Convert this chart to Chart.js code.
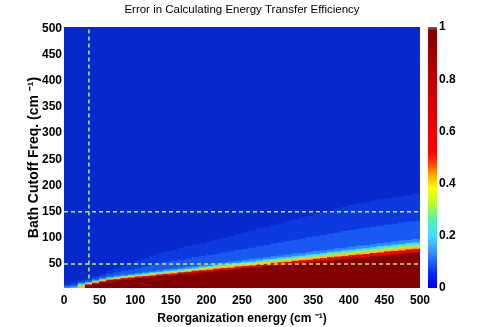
<!DOCTYPE html>
<html>
<head>
<meta charset="utf-8">
<script src="https://cdn.jsdelivr.net/npm/chart.js@4.4.0/dist/chart.umd.min.js"></script>
<style>
  body { margin: 0; background: #fff; }
  #wrap { position: relative; width: 491px; height: 327px; }
  #heat { position: absolute; left: 0; top: 0; }
  #cbar { position: absolute; left: 420px; top: 0; }
</style>
</head>
<body>
<div id="wrap">
  <canvas id="heat" width="491" height="327"></canvas>
  <canvas id="cbar" width="71" height="327"></canvas>
</div>
<script>
// reorganization energy, centre of each 10 cm^-1 column
const reorgEnergy = [5,15,25,35,45,55,65,75,85,95,105,115,125,135,145,155,165,175,185,195,
  205,215,225,235,245,255,265,275,285,295,305,315,325,335,345,355,365,375,385,395,
  405,415,425,435,445,455,465,475,485,495];

// bath cutoff freq where the error falls below each level (read column by column)
const edgeDarkRed = [4,4,4,9,12,15,18,19,20,22,23,24,25,27,28,29,31,32,33,34,36,37,38,39,41,42,43,44,46,47,48,49,51,52,53,55,56,57,58,60,61,62,63,65,66,67,68,70,71,72];
const edgeRed     = [4,4,4,11,14,17,20,21,23,24,26,27,28,30,31,32,34,35,37,38,39,41,42,43,45,46,47,49,50,52,53,54,56,57,58,60,61,63,64,65,67,68,69,71,72,74,75,76,78,79];
const edgeYellow  = [4,4,9,12,15,19,21,23,25,26,27,29,30,32,33,35,36,37,39,40,42,43,45,46,48,49,50,52,53,55,56,58,59,61,62,63,65,66,68,69,71,72,74,75,76,78,79,81,82,84];
const edgeGreen   = [4,4,10,13,16,20,22,24,26,27,29,30,32,33,34,36,37,39,40,42,43,45,46,48,49,51,52,54,55,57,58,60,61,63,64,66,67,69,70,72,73,75,76,78,79,81,82,84,85,86];
const edgeCyan    = [4,5,12,15,18,21,24,26,27,29,30,32,34,35,37,38,40,41,43,45,46,48,49,51,52,54,55,57,59,60,62,63,65,66,68,69,71,73,74,76,77,79,80,82,84,85,87,88,90,91];
const edgeLight   = [7,8,14,16,20,23,26,28,30,31,33,35,36,38,40,41,43,45,46,48,50,51,53,55,56,58,60,61,63,65,66,68,70,71,73,75,76,78,80,81,83,85,86,88,90,91,93,95,96,98];
const edgeMid     = [9,11,16,19,23,27,31,34,37,39,42,45,48,51,54,56,58,60,63,65,67,69,72,74,77,79,81,84,86,89,91,94,96,98,101,103,105,108,110,113,115,117,119,121,123,125,127,129,131,132];
const edgePale    = [12,15,19,22,27,32,37,42,47,52,56,61,66,71,74,77,81,84,87,90,93,97,100,103,107,110,114,118,121,125,128,132,135,139,142,146,149,152,156,159,163,166,168,171,173,175,177,179,182,184];

const freqMin = 4;
const freqMax = 503;
const xTicks = [0,50,100,150,200,250,300,350,400,450,500];
const yTicks = [50,100,150,200,250,300,350,400,450,500];

// dashed guide lines
const guideX = 35;
const guideXSpan = [22, 503];
const guideY = [50, 150];

const cbTicks = [0, 0.2, 0.4, 0.6, 0.8, 1];

// band colours, bottom (error ~1) to top (error ~0)
const bandColors = ['#820000','#ec0000','#ffc400','#a8f040','#40e0f8','#2c8cff','#1a58f4','#0c3ae0','#0628cc'];
const cmapStops = [0, 0.05, 0.1, 0.15, 0.2, 0.27, 0.32, 0.38, 0.43, 0.47, 0.52, 0.6, 0.8, 0.985, 1];
const cmapColors = ['#0000f0','#0020ff','#2060ff','#40a0ff','#40e0ff','#60f0a0','#b0ff30','#ffff00','#ffb000','#ff5000','#ff0000','#f00000','#c00000','#800000','#906060'];

const fam = "'Liberation Sans', Arial, sans-serif";
const tickFont = { family: fam, size: 12, weight: 'bold' };

const upper = reorgEnergy.map(() => freqMax);
// each band painted from the bottom up to its top edge, highest band first
const tops = [edgeDarkRed, edgeRed, edgeYellow, edgeGreen, edgeCyan, edgeLight, edgeMid, edgePale, upper];

const datasets = [];
guideY.forEach(y => {
    datasets.push({
        type: 'line',
        data: [{ x: 0, y: y }, { x: 500, y: y }],
        borderColor: '#c4f23c',
        borderWidth: 1.5,
        borderDash: [4, 3],
        pointRadius: 0,
        order: 0
    });
});
datasets.push({
    type: 'line',
    data: [{ x: guideX, y: guideXSpan[0] }, { x: guideX, y: guideXSpan[1] }],
    borderColor: '#b0f060',
    borderWidth: 1.5,
    borderDash: [4, 3],
    pointRadius: 0,
    order: 0
});
for (let i = 0; i < bandColors.length; i++) {
    datasets.push({
        type: 'bar',
        data: reorgEnergy.map((x, j) => ({ x: x, y: [freqMin, tops[i][j]] })),
        backgroundColor: bandColors[i],
        borderWidth: 0,
        grouped: false,
        categoryPercentage: 1,
        barPercentage: 1.12,
        order: 2 + i
    });
}

new Chart(document.getElementById('heat'), {
    type: 'bar',
    data: { datasets: datasets },
    options: {
        responsive: false,
        animation: false,
        layout: { padding: { left: 0, right: 71, top: 0, bottom: 0 } },
        plugins: {
            legend: { display: false },
            tooltip: { enabled: false },
            title: {
                display: true,
                fullSize: false,
                text: 'Error in Calculating Energy Transfer Efficiency',
                color: '#000',
                font: { family: fam, size: 11.5, weight: 'normal' },
                padding: { top: 3, bottom: 10.2 }
            }
        },
        scales: {
            x: {
                type: 'linear',
                min: 0,
                max: 500,
                offset: false,
                afterBuildTicks: s => { s.ticks = xTicks.map(v => ({ value: v })); },
                afterFit: s => { s.height = 39; },
                grid: { display: false, drawTicks: false },
                border: { display: false },
                ticks: { color: '#000', font: tickFont, padding: 5, maxRotation: 0 },
                title: {
                    display: true,
                    text: 'Reorganization energy (cm \u207B\u00B9)',
                    color: '#000',
                    font: { family: fam, size: 12, weight: 'bold' },
                    padding: { top: 0, bottom: 1 }
                }
            },
            y: {
                type: 'linear',
                min: freqMin,
                max: freqMax,
                afterBuildTicks: s => { s.ticks = yTicks.map(v => ({ value: v })); },
                afterFit: s => { s.width = 64; },
                grid: { display: false, drawTicks: false },
                border: { display: false },
                ticks: { color: '#000', font: tickFont, padding: 2 },
                title: {
                    display: true,
                    text: 'Bath Cutoff Freq. (cm \u207B\u00B9)',
                    color: '#000',
                    font: { family: fam, size: 14, weight: 'bold' },
                    padding: { top: 26, bottom: 0 }
                }
            }
        }
    }
});

// colour bar
new Chart(document.getElementById('cbar'), {
    type: 'bar',
    data: {
        labels: [''],
        datasets: [{
            data: [[0, 1]],
            borderWidth: 0,
            categoryPercentage: 1,
            barPercentage: 1,
            backgroundColor: function(context) {
                const chart = context.chart;
                const area = chart.chartArea;
                if (!area) return '#0000f0';
                const ys = chart.scales.y;
                const g = chart.ctx.createLinearGradient(0, ys.getPixelForValue(0), 0, ys.getPixelForValue(1));
                cmapStops.forEach((s, i) => g.addColorStop(s, cmapColors[i]));
                return g;
            }
        }]
    },
    options: {
        responsive: false,
        animation: false,
        layout: { padding: { left: 8, right: 0, top: 27, bottom: 39 } },
        plugins: { legend: { display: false }, tooltip: { enabled: false } },
        scales: {
            x: { display: false },
            y: {
                position: 'right',
                min: 0,
                max: 1,
                afterBuildTicks: s => { s.ticks = cbTicks.map(v => ({ value: v })); },
                afterFit: s => { s.width = 54; },
                grid: { display: false, drawTicks: false },
                border: { display: false },
                ticks: { color: '#000', font: tickFont, padding: 2, callback: v => String(v) }
            }
        }
    }
});
</script>
</body>
</html>
